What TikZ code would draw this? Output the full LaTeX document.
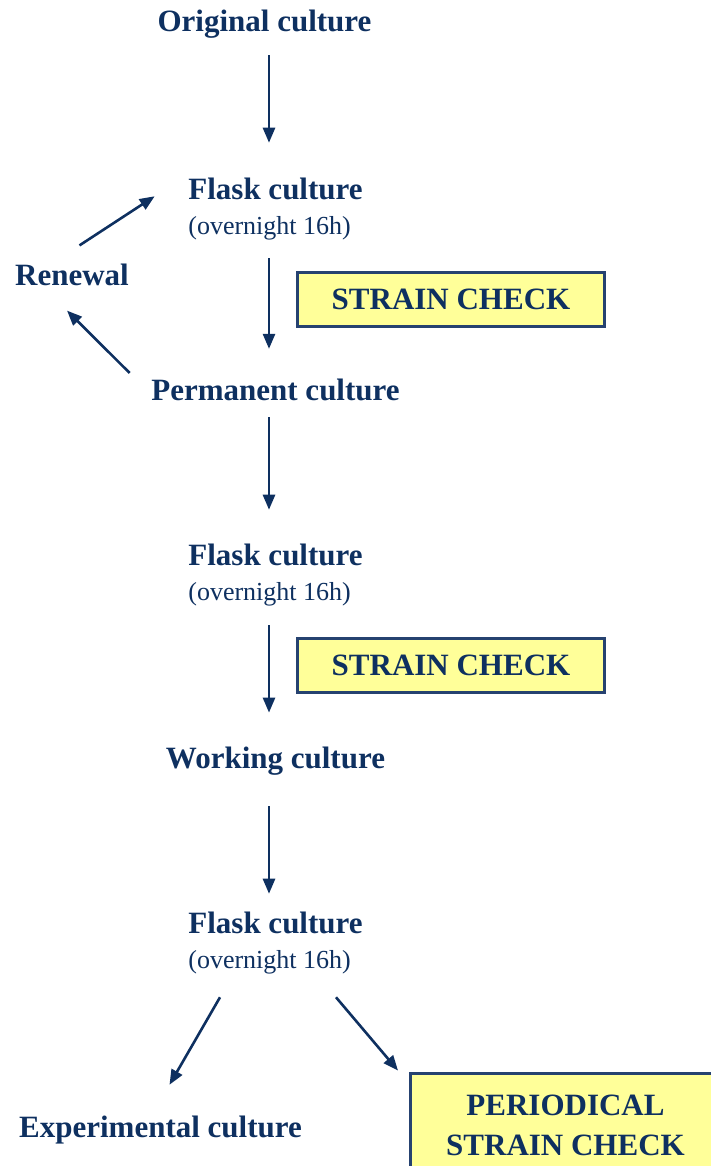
\documentclass[tikz,border=0pt]{standalone}
\usepackage{fontspec}
\setmainfont{Liberation Serif}
\usetikzlibrary{arrows.meta, calc, positioning}
\definecolor{navy}{RGB}{14,48,96}
\definecolor{boxline}{RGB}{38,66,112}
\definecolor{lightyellow}{RGB}{255,255,153}
\tikzstyle{textonly} = [rectangle, 
inner sep=0pt, 
text=navy, 
font=\fontsize{31}{35}\selectfont\bfseries]
\tikzstyle{flask} = [textonly, 
align=left]
\tikzstyle{checkbox} = [rectangle, 
minimum width=307pt, 
minimum height=54pt, 
text centered, 
align=center, 
fill=lightyellow, 
line width=3pt, 
draw=boxline, 
text=navy, 
font=\fontsize{31}{40}\selectfont\bfseries]
\tikzstyle{arr} = [-{Triangle[length=15pt, width=12pt]}, line width=2.6pt, draw=navy]
\newcommand{\overnight}{{\fontsize{26}{30}\selectfont\mdseries (overnight 16h)}}

\begin{document}
\begin{tikzpicture}[x=1pt, y=1pt, node distance=185pt]
		\useasboundingbox (0,0) rectangle (710,-1166);
		\coordinate (col) at (269,0);
		
		\node (orig) [textonly] at (264.5,-24) {Original culture};
		\node (fc1) [flask, below of=orig, xshift=11pt] {Flask culture\\\overnight};
		\node (perm) [textonly, below of=fc1, yshift=4pt] {Permanent culture};
		\node (fc2) [flask, below of=perm] {Flask culture\\\overnight};
		\node (work) [textonly, below of=fc2, yshift=-1pt] {Working culture};
		\node (fc3) [flask, below of=work, yshift=3pt] {Flask culture\\\overnight};
		\node (exp) [textonly, below of=fc3, xshift=-115pt, yshift=-2pt] {Experimental culture};
		\node (renew) [textonly] at (72,-274.5) {Renewal};
		
		\node (chk1) [checkbox] at ($(fc1)!0.5!(perm)+(175.5,0)$) {STRAIN CHECK};
		\node (chk2) [checkbox] at ($(fc2)!0.5!(work)+(175.5,2.5)$) {STRAIN CHECK};
		\node (per) [checkbox, minimum width=310pt, minimum height=104pt, right of=exp, xshift=220pt, yshift=5pt] {PERIODICAL\\STRAIN CHECK};
		
		\draw [arr, shorten <=17pt, shorten >=35pt](orig.south -| col) -- (fc1.north -| col);
		\draw [arr, shorten <=18pt, shorten >=30pt](fc1.south -| col) -- (perm.north -| col);
		\draw [arr, shorten <=16pt, shorten >=34pt](perm.south -| col) -- (fc2.north -| col);
		\draw [arr, shorten <=19pt, shorten >=34pt](fc2.south -| col) -- (work.north -| col);
		\draw [arr, shorten <=31pt, shorten >=18pt](work.south -| col) -- (fc3.north -| col);
		
		\draw [arr]([shift={(7.5,18)}]renew.north) -- ([shift={(-33.5,12.75)}]fc1.west);
		\draw [arr]([shift={(-21.5,17)}]perm.west) -- ([shift={(-5,-25)}]renew.south);
		
		\draw [arr]([shift={(-55.5,-23)}]fc3.south) -- ([shift={(9,31)}]exp.north);
		\draw [arr]([shift={(60.5,-23)}]fc3.south) -- ([shift={(-11,1)}]per.north west);
	\end{tikzpicture}
\end{document}
